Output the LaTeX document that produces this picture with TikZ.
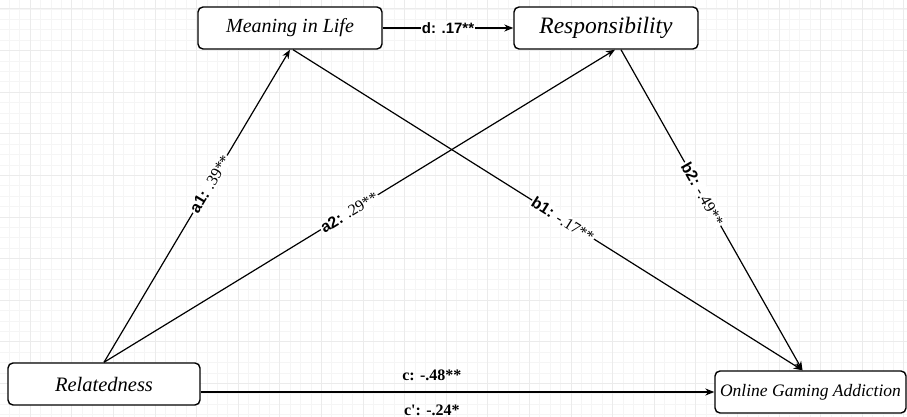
\documentclass[tikz,border=0pt]{standalone}
\usepackage{fontspec}
\setmainfont{Liberation Serif}
\setsansfont{Liberation Sans}
\usetikzlibrary{arrows.meta,calc}
\begin{document}
\begin{tikzpicture}[x=1pt,y=-1pt,
 box/.style={draw, fill=white, line width=1.4pt, rounded corners=5pt, minimum width=#1, minimum height=42pt, inner sep=0pt, font=\itshape\fontsize{20}{24}\selectfont},
 conn/.style={line width=1.2pt, -{Stealth[length=9pt,width=7pt]}},
 lab/.style={fill=white, inner sep=1pt, font=\fontsize{16}{18}\selectfont},
 clab/.style={font=\bfseries\fontsize{16}{18}\selectfont},
 minorgrid/.style={draw=gray!8, line width=0.5pt},
 majorgrid/.style={draw=gray!16, line width=0.6pt}
]
\useasboundingbox (0,0) rectangle (907,417);
\fill[white] (0,0) rectangle (907,417);
% grid
\foreach \i in {0,...,86} { \path[minorgrid] (9.2+\i*10.4,0) -- (9.2+\i*10.4,417); }
\foreach \i in {0,...,39} { \path[minorgrid] (0,8.8+\i*10.4) -- (907,8.8+\i*10.4); }
\foreach \i in {0,...,21} { \path[majorgrid] (30+\i*41.6,0) -- (30+\i*41.6,417); }
\foreach \i in {0,...,9} { \path[majorgrid] (0,8.8+\i*41.6) -- (907,8.8+\i*41.6); }
% nodes
\node[box=184pt] (mil) at (290,28) {Meaning in Life};
\node[box=184pt, font=\itshape\fontsize{23.5}{26}\selectfont] (resp) at (606,28) {Responsibility};
\node[box=192pt, font=\itshape\fontsize{20.5}{24}\selectfont] (rel) at (104,384) {Relatedness};
\node[box=191pt, font=\itshape\fontsize{17.5}{20}\selectfont] (oga) at (810.5,392) {Online Gaming Addiction};
% connectors
\draw[conn] (mil.east) -- node[lab, font=\sffamily\bfseries\fontsize{15}{17}\selectfont]{d: .17**} (resp.west);
\draw[conn] (rel.north) -- node[lab, sloped, pos=0.57]{\textsf{\bfseries a1:} .39**} (mil.south);
\draw[conn] (rel.north) -- node[lab, sloped, pos=0.48]{\textsf{\bfseries a2:} .29**} ([xshift=9pt]resp.south);
\draw[conn] ([xshift=3pt]mil.south) -- node[lab, sloped, pos=0.53]{\textsf{\bfseries b1:} -.17**} ([xshift=-8pt]oga.north);
\draw[conn] ([xshift=15pt]resp.south) -- node[lab, sloped, pos=0.45]{\textsf{\bfseries b2:} -.49**} ([xshift=-8pt]oga.north);
\draw[conn] (rel.east |- oga.west) --
  node[pos=0.45, yshift=17pt, clab]{c: -.48**}
  node[pos=0.45, yshift=-18pt, clab]{c\textquotesingle: -.24*}
  (oga.west);
\end{tikzpicture}
\end{document}
